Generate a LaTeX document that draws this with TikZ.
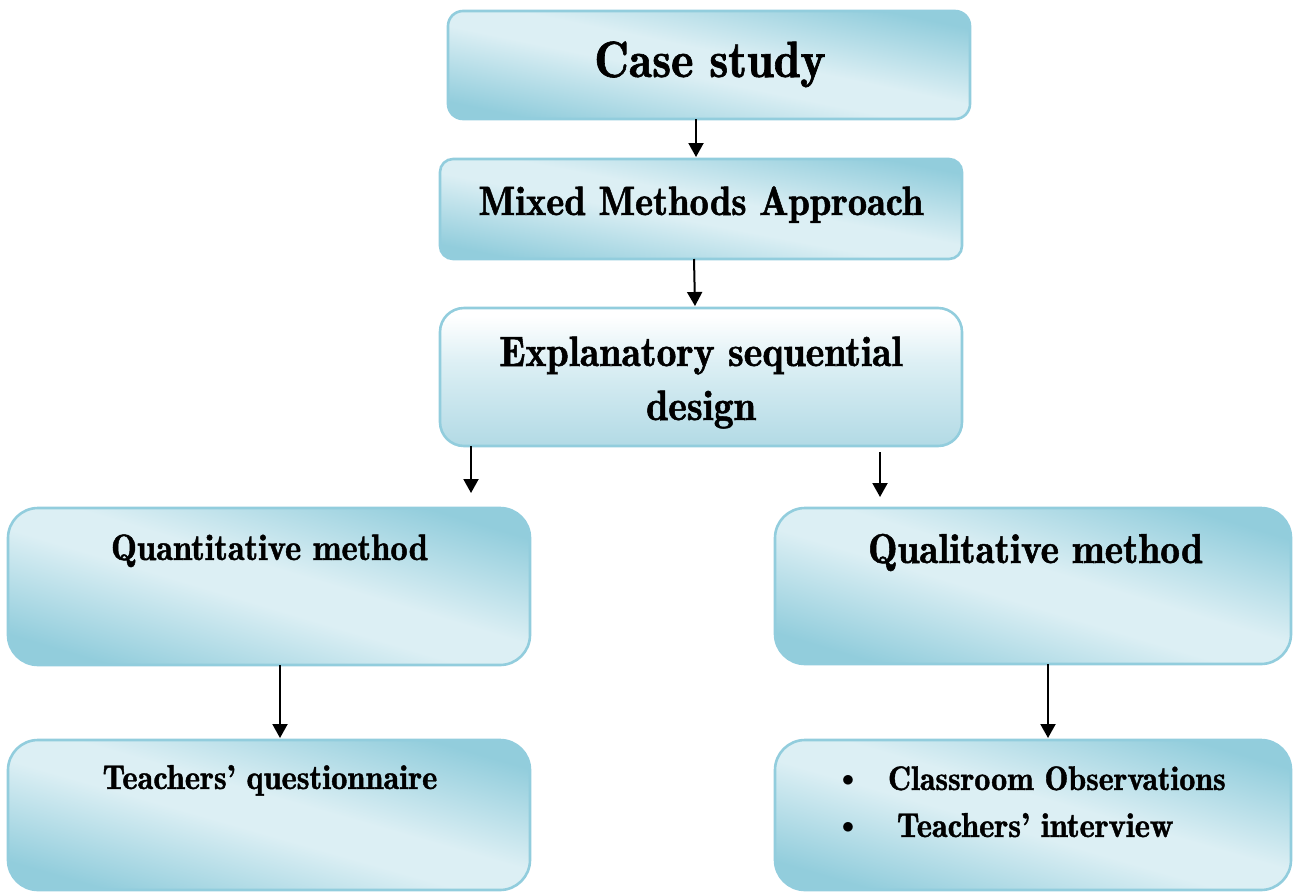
\documentclass[tikz,border=0pt]{standalone}
\usepackage{fontspec}
\setmainfont{lmromandemi10-regular.otf}[FakeStretch=0.94, FakeBold=1.2]
\usetikzlibrary{arrows.meta}

\definecolor{bdark}{RGB}{146,205,220}
\definecolor{blight}{RGB}{220,239,244}
\definecolor{bedge}{RGB}{146,205,221}
\definecolor{bbottom}{RGB}{178,218,229}

% sheen: darker towards two opposite corners, light band through the middle
\pgfdeclareverticalshading{glossy}{100bp}{%
  color(0bp)=(bdark); color(25bp)=(bdark); color(46bp)=(blight);
  color(54bp)=(blight); color(75bp)=(bdark); color(100bp)=(bdark)}
% white at the top fading to light blue at the bottom
\pgfdeclareverticalshading{fadeblue}{100bp}{%
  color(0bp)=(bbottom); color(25bp)=(bbottom); color(55bp)=(blight);
  color(72bp)=(white); color(100bp)=(white)}

\tikzset{
  frame/.style={draw=bedge, line width=2.6pt, inner sep=0pt, outer sep=0pt},
  % rounded box #1 x #2 pt; the light band runs from top left to bottom right,
  % #3 = -atan(#2/#1)
  gbox/.style n args={3}{frame, minimum width=#1pt, minimum height=#2pt,
    shading=glossy, shading angle=#3},
  lab/.style={inner sep=0pt, outer sep=0pt, anchor=base, text=black},
  arr/.style={draw=black, line width=2pt, -{Triangle[width=15pt,length=14pt]}},
}

\begin{document}
\begin{tikzpicture}[x=1pt, y=-1pt]
\useasboundingbox (0,0) rectangle (1293,892);

% boxes
\node[gbox={522}{108}{-11.7}, rounded corners=15pt] (case) at (709,65) {};
\node[gbox={522}{100}{-10.8}, rounded corners=13pt] (mixed) at (701,209) {};
\node[frame, minimum width=522pt, minimum height=138pt, rounded corners=24pt, shading=fadeblue] (expl) at (701,377) {};
\node[gbox={522}{157}{-16.7}, rounded corners=30pt] (quant) at (269,586.5) {};
\node[gbox={516}{156}{-16.8}, rounded corners=30pt] (qual) at (1033,586) {};
\node[gbox={522}{150}{-16.0}, rounded corners=30pt] (quest) at (269,815) {};
\node[gbox={516}{150}{-16.2}, rounded corners=30pt] (obs) at (1033,815) {};

% texts
\node[lab, font=\fontsize{51}{51}\selectfont] (tcase) at (710,77) {Case study};
\node[lab, font=\fontsize{41}{41}\selectfont] (tmixed) at (701,215) {Mixed Methods Approach};
\node[lab, font=\fontsize{42.5}{42.5}\selectfont] (texpl) at (701,366) {Explanatory sequential};
\node[lab, font=\fontsize{42.5}{42.5}\selectfont] (tdesign) at (701,420) {design};
\node[lab, font=\fontsize{36.8}{36.8}\selectfont] (tquant) at (269.5,560) {Quantitative method};
\node[lab, font=\fontsize{41.8}{41.8}\selectfont] (tqual) at (1035.5,563) {Qualitative method};
\node[lab, font=\fontsize{34.5}{34.5}\selectfont] (tquest) at (270,789) {Teachers’ questionnaire};
\node[lab, anchor=base west, font=\fontsize{34}{34}\selectfont] (tobs) at (888,790) {Classroom Observations};
\node[lab, anchor=base west, font=\fontsize{34.5}{34.5}\selectfont] (tint) at (897,837) {Teachers’ interview};
\node[lab, anchor=center, font=\fontsize{33.5}{33.5}\selectfont] (b1) at (848,781) {$\bullet$};
\node[lab, anchor=center, font=\fontsize{33.5}{33.5}\selectfont] (b2) at (848,828) {$\bullet$};

% connectors
\draw[arr] ([xshift=-13pt]case.south) -- ([xshift=-5pt,yshift=2pt]mixed.north);
\draw[arr] ([xshift=-7pt]mixed.south) -- ([xshift=-6pt,yshift=2pt]expl.north);
\draw[arr] ([xshift=-230pt]expl.south) -- ([xshift=202pt,yshift=15pt]quant.north);
\draw[arr] ([xshift=179pt,yshift=-6pt]expl.south) -- ([xshift=-153pt,yshift=11pt]qual.north);
\draw[arr] ([xshift=11pt]quant.south) -- ([xshift=11pt,yshift=2pt]quest.north);
\draw[arr] ([xshift=15pt]qual.south) -- ([xshift=15pt,yshift=2pt]obs.north);
\end{tikzpicture}
\end{document}
